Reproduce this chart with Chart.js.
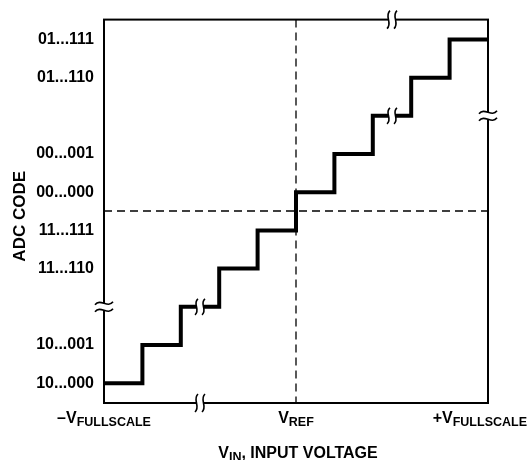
<!DOCTYPE html>
<html lang="en">
<head>
<meta charset="utf-8" />
<title>ADC transfer function</title>
<script src="https://cdn.jsdelivr.net/npm/chart.js/dist/chart.umd.min.js"></script>
<style>
  * { margin: 0; padding: 0; }
  body { background: #fff; }
  .chartBox { width: 529px; height: 460px; }
</style>
</head>
<body>
<div class="chartBox"><canvas id="myChart"></canvas></div>
<script>
// staircase: input step index -> output code index
const inputSteps = [0, 1, 2, 3, 4, 5, 6, 7, 8, 9, 10];
const codeSteps = [0, 1, 2, 3, 4, 5, 6, 7, 8, 9, 9];
const codeLabels = ['10...000', '10...001', '', '11...110', '11...111',
                    '00...000', '00...001', '', '01...110', '01...111'];
const xTickValues = [0, 5, 10];
const xTickMain = ['\u2013V', 'V', '+V'];
const xTickSub = ['FULLSCALE', 'REF', 'FULLSCALE'];
const vRef = 5;
const codeMid = 4.5;
const stairBreaks = [[2.5, 2], [7.5, 7]]; // [x, code] where the staircase is broken
const frameBreaks = { bottom: 2.5, top: 7.5, left: 2, right: 7 };

const FAMILY = '"Liberation Sans", Arial, sans-serif';
const mainFont = 'bold 16px ' + FAMILY;
const subFont = 'bold 12.5px ' + FAMILY;

// text with subscript parts: parts = [[text, isSub], ...]
function drawParts(ctx, parts, x, y, maxRight) {
  let w = 0;
  parts.forEach(p => { ctx.font = p[1] ? subFont : mainFont; w += ctx.measureText(p[0]).width; });
  let x0 = x - w / 2;
  if (maxRight && x0 + w > maxRight) x0 = maxRight - w;
  ctx.textAlign = 'left';
  ctx.textBaseline = 'alphabetic';
  parts.forEach(p => {
    ctx.font = p[1] ? subFont : mainFont;
    ctx.fillText(p[0], x0, p[1] ? y + 3 : y);
    x0 += ctx.measureText(p[0]).width;
  });
}

// "≀≀" mark on a horizontal line
function breakOnHLine(ctx, x, y, h, lw) {
  ctx.save();
  ctx.fillStyle = '#fff';
  ctx.fillRect(x - 3.5, y - lw / 2 - 1, 7, lw + 2);
  ctx.strokeStyle = '#000';
  ctx.lineWidth = 1.6;
  [-3.5, 3.5].forEach(dx => {
    const cx = x + dx;
    ctx.beginPath();
    ctx.moveTo(cx + 1.5, y - h);
    ctx.bezierCurveTo(cx - 4.5, y - h * 0.4, cx + 4.5, y + h * 0.4, cx - 1.5, y + h);
    ctx.stroke();
  });
  ctx.restore();
}

// "≈" mark on a vertical line
function breakOnVLine(ctx, x, y, w, lw) {
  ctx.save();
  ctx.fillStyle = '#fff';
  ctx.fillRect(x - lw / 2 - 1, y - 3.5, lw + 2, 7);
  ctx.strokeStyle = '#000';
  ctx.lineWidth = 1.6;
  [-3.5, 3.5].forEach(dy => {
    const cy = y + dy;
    ctx.beginPath();
    ctx.moveTo(x - w, cy + 1.5);
    ctx.bezierCurveTo(x - w * 0.4, cy - 5.5, x + w * 0.4, cy + 5.5, x + w, cy - 1.5);
    ctx.stroke();
  });
  ctx.restore();
}

const decorPlugin = {
  id: 'decor',
  beforeDatasetsDraw(chart) {
    const { ctx, chartArea: a, scales: { x, y } } = chart;
    ctx.save();
    ctx.strokeStyle = '#000';
    ctx.lineWidth = 1.3;
    ctx.setLineDash([8, 5]);
    const vx = Math.round(x.getPixelForValue(vRef));
    ctx.beginPath();
    ctx.moveTo(vx, a.top);
    ctx.lineTo(vx, a.bottom);
    const my = Math.round(y.getPixelForValue(codeMid));
    ctx.moveTo(a.left, my);
    ctx.lineTo(a.right, my);
    ctx.stroke();
    ctx.setLineDash([]);
    ctx.lineWidth = 2;
    ctx.strokeRect(a.left, a.top, a.right - a.left, a.bottom - a.top);
    ctx.restore();
  },
  afterDatasetsDraw(chart) {
    const { ctx, chartArea: a, scales: { x, y } } = chart;
    stairBreaks.forEach(b => breakOnHLine(ctx, x.getPixelForValue(b[0]), y.getPixelForValue(b[1]), 8, 4));
    breakOnHLine(ctx, x.getPixelForValue(frameBreaks.bottom), a.bottom, 9, 2);
    breakOnHLine(ctx, x.getPixelForValue(frameBreaks.top), a.top, 9, 2);
    breakOnVLine(ctx, a.left, y.getPixelForValue(frameBreaks.left), 9, 2);
    breakOnVLine(ctx, a.right, y.getPixelForValue(frameBreaks.right), 9, 2);

    ctx.save();
    ctx.fillStyle = '#000';
    xTickValues.forEach((v, i) => {
      drawParts(ctx, [[xTickMain[i], false], [xTickSub[i], true]],
        x.getPixelForValue(v), a.bottom + 20, chart.width - 2);
    });
    drawParts(ctx, [['V', false], ['IN', true], [', INPUT VOLTAGE', false]],
      (a.left + a.right) / 2 + 2, a.bottom + 55);
    ctx.translate(25, (a.top + a.bottom) / 2 + 5);
    ctx.rotate(-Math.PI / 2);
    ctx.font = 'bold 17px ' + FAMILY;
    ctx.textAlign = 'center';
    ctx.textBaseline = 'alphabetic';
    ctx.fillText('ADC CODE', 0, 0);
    ctx.restore();
  }
};

const config = {
  type: 'line',
  data: {
    datasets: [{
      data: inputSteps.map((v, i) => ({ x: v, y: codeSteps[i] })),
      stepped: true,
      borderColor: '#000',
      borderWidth: 4,
      borderJoinStyle: 'miter',
      pointRadius: 0,
      fill: false
    }]
  },
  options: {
    responsive: true,
    maintainAspectRatio: false,
    animation: false,
    events: [],
    layout: { padding: { top: 18, right: 41, left: 0, bottom: 0 } },
    plugins: { legend: { display: false }, tooltip: { enabled: false } },
    scales: {
      x: {
        type: 'linear', min: 0, max: 10,
        ticks: { display: false },
        grid: { display: false },
        border: { display: false },
        afterFit: s => { s.height = 57; }
      },
      y: {
        type: 'linear', min: -0.52, max: 9.52,
        afterBuildTicks: s => { s.ticks = codeLabels.map((l, i) => ({ value: i })); },
        ticks: {
          autoSkip: false,
          padding: 10,
          color: '#000',
          font: { family: FAMILY, size: 16, weight: 'bold' },
          callback: v => codeLabels[v]
        },
        grid: { display: false, drawTicks: false },
        border: { display: false },
        afterFit: s => { s.width = 104; }
      }
    }
  },
  plugins: [decorPlugin]
};

new Chart(document.getElementById('myChart'), config);
</script>
</body>
</html>
